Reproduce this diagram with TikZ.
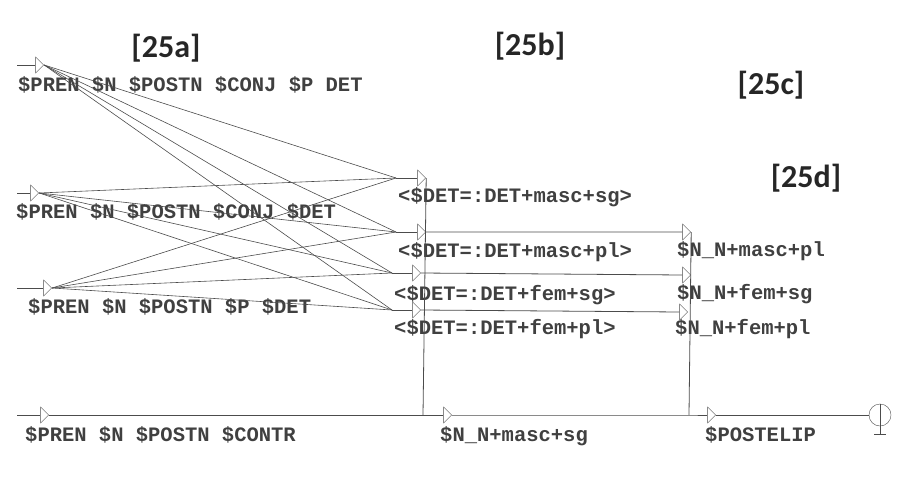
\documentclass[tikz,border=0pt]{standalone}
\usepackage{fontspec}
\setmonofont{Liberation Mono}
\newfontfamily\tagfont{Carlito}
\usetikzlibrary{shapes.geometric,positioning}

\tikzset{
  tri/.style={draw=black!70, isosceles triangle, isosceles triangle stretches=true,
    minimum width=16pt, minimum height=8pt, inner sep=0pt},
  lbl/.style={anchor=north west, inner sep=0pt, font=\ttfamily\bfseries\fontsize{20.5}{20.5}\selectfont, text=black!75},
  tag/.style={font=\tagfont\bfseries\fontsize{32}{32}\selectfont, text=black!85},
  wire/.style={draw=black!70, line width=0.8pt}
}

\begin{document}
\begin{tikzpicture}[x=1pt,y=-1pt]
\useasboundingbox (0,0) rectangle (924,477);

\node[tag] (ta) at (166,48) {[25a]};
\node[tag] (tb) at (530,46) {[25b]};
\node[tag] (tc) at (771,85) {[25c]};
\node[tag] (td) at (806,178) {[25d]};

% source boxes
\coordinate (ia) at (17,65);
\coordinate (ib) at (17,193);
\coordinate (ic) at (17,288);
\coordinate (id) at (17,415);
\node[tri] (sa) at (39,65) {};
\node[tri] (sb) at (34,193) {};
\node[tri] (sc) at (47,288) {};
\node[tri] (sd) at (44,415) {};
\node[lbl] (la) at (18,76) {\$PREN \$N \$POSTN \$CONJ \$P DET};
\node[lbl] (lb) at (16,203) {\$PREN \$N \$POSTN \$CONJ \$DET};
\node[lbl] (lc) at (28,298) {\$PREN \$N \$POSTN \$P \$DET};
\node[lbl] (ld) at (25,426) {\$PREN \$N \$POSTN \$CONTR};

% det boxes
\coordinate (ja) at (396,178);
\coordinate (jb) at (396,232);
\coordinate (jc) at (392,273);
\coordinate (jd) at (392,310);
\node[tri] (da) at (421,178) {};
\node[tri] (db) at (421,232) {};
\node[tri] (dc) at (416,273) {};
\node[tri] (dd) at (416,310) {};
\node[lbl] (lda) at (398,187) {<\$DET=:DET+masc+sg>};
\node[lbl] (ldb) at (398,242) {<\$DET=:DET+masc+pl>};
\node[lbl] (ldc) at (394,285) {<\$DET=:DET+fem+sg>};
\node[lbl] (ldd) at (394,319) {<\$DET=:DET+fem+pl>};

% noun boxes
\node[tri] (na) at (686,232) {};
\node[tri] (nb) at (686,275) {};
\node[tri] (nc) at (683,312) {};
\node[tri] (nd) at (447,415) {};
\node[tri] (pe) at (711,415) {};
\node[lbl] (lna) at (677,241) {\$N\_N+masc+pl};
\node[lbl] (lnb) at (677,284) {\$N\_N+fem+sg};
\node[lbl] (lnc) at (675,319) {\$N\_N+fem+pl};
\node[lbl] (lnd) at (440,426) {\$N\_N+masc+sg};
\node[lbl] (lpe) at (705,426) {\$POSTELIP};

\coordinate (ka) at (423,415);
\coordinate (kb) at (689,415);
\node[circle, draw=black!70, minimum size=22pt, inner sep=0pt] (fin) at (880,415) {};

\draw[wire] (ia) -- (sa.west) (ib) -- (sb.west) (ic) -- (sc.west) (id) -- (sd.west);
\foreach \s in {sa,sb,sc}
  \foreach \j in {ja,jb,jc,jd}
    \draw[wire, line width=0.6pt] (\s.east) -- (\j);
\draw[wire] (ja) -- (da.west) (jb) -- (db.west) (jc) -- (dc.west) (jd) -- (dd.west);
\draw[wire] (sd.east) -- (nd.west);
\draw[wire] (da.east) -- (ka);
\draw[wire] (db.east) -- (na.west) (dc.east) -- (nb.west) (dd.east) -- (nc.west);
\draw[wire] (na.east) -- (kb);
\draw[wire] (nd.east) -- (kb) -- (pe.west);
\draw[wire] (pe.east) -- (fin.west);
\draw[wire] (fin.north) -- ([yshift=-8pt]fin.south);
\draw[wire] ([shift={(-6pt,-8pt)}]fin.south) -- ([shift={(6pt,-8pt)}]fin.south);
\end{tikzpicture}
\end{document}
